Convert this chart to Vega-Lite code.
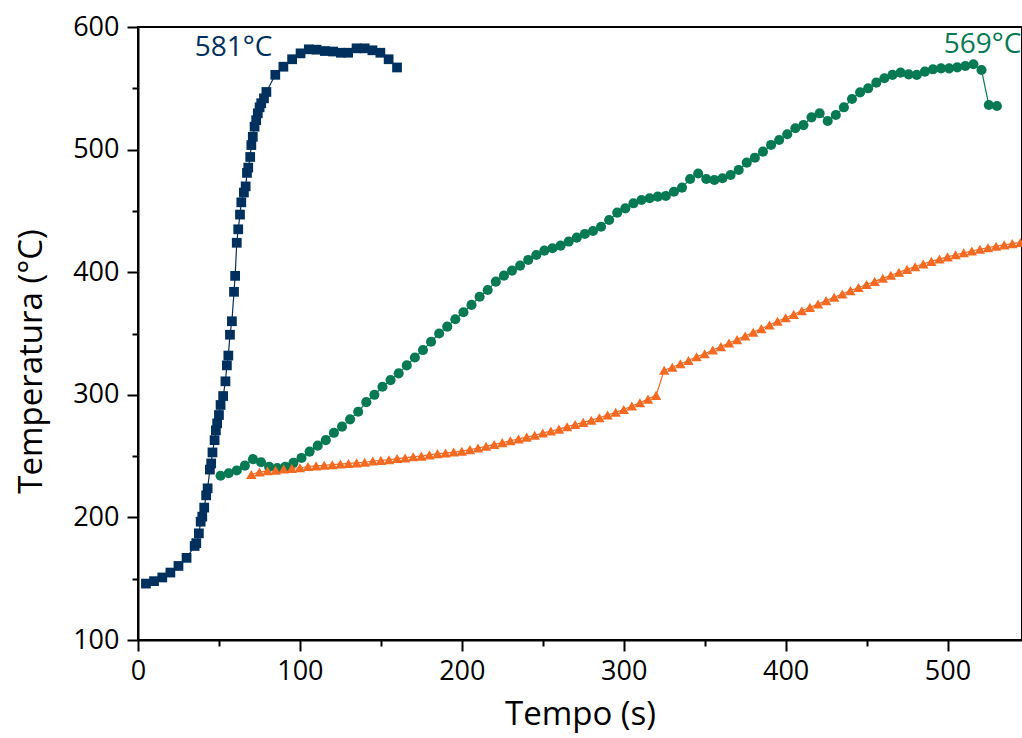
{
  "$schema": "https://vega.github.io/schema/vega-lite/v6.json",
  "autosize": "none",
  "width": 884,
  "height": 613,
  "padding": {"left": 138, "top": 27, "right": 0, "bottom": 98},
  "background": "white",
  "config": {
    "view": {"stroke": "black", "strokeWidth": 2},
    "font": "Open Sans",
    "axis": {
      "labelFont": "Open Sans",
      "titleFont": "Open Sans",
      "labelFontSize": 27,
      "titleFontSize": 33,
      "titleFontWeight": "normal",
      "labelColor": "black",
      "titleColor": "black",
      "domainColor": "black",
      "domainWidth": 2,
      "tickColor": "black",
      "tickWidth": 2,
      "grid": false
    }
  },
  "datasets": {
    "pts": [
      {"s": "A", "t": 4.9, "T": 146},
      {"s": "A", "t": 9.9, "T": 148},
      {"s": "A", "t": 15, "T": 151},
      {"s": "A", "t": 20, "T": 155},
      {"s": "A", "t": 25, "T": 160.4},
      {"s": "A", "t": 30, "T": 167},
      {"s": "A", "t": 35, "T": 176.7},
      {"s": "A", "t": 36, "T": 179},
      {"s": "A", "t": 37.6, "T": 187},
      {"s": "A", "t": 38.7, "T": 196.5},
      {"s": "A", "t": 39.7, "T": 200.6},
      {"s": "A", "t": 40.9, "T": 208},
      {"s": "A", "t": 42.1, "T": 218},
      {"s": "A", "t": 43, "T": 223.7},
      {"s": "A", "t": 44.4, "T": 239},
      {"s": "A", "t": 45.2, "T": 244},
      {"s": "A", "t": 46, "T": 253},
      {"s": "A", "t": 47.3, "T": 263},
      {"s": "A", "t": 48.1, "T": 271},
      {"s": "A", "t": 48.9, "T": 276.7},
      {"s": "A", "t": 50, "T": 283.5},
      {"s": "A", "t": 51, "T": 291.7},
      {"s": "A", "t": 52.6, "T": 299},
      {"s": "A", "t": 54, "T": 311},
      {"s": "A", "t": 54.9, "T": 324},
      {"s": "A", "t": 55.8, "T": 332},
      {"s": "A", "t": 56.8, "T": 349},
      {"s": "A", "t": 58, "T": 360},
      {"s": "A", "t": 59.3, "T": 384},
      {"s": "A", "t": 60, "T": 397},
      {"s": "A", "t": 61, "T": 424},
      {"s": "A", "t": 61.9, "T": 435},
      {"s": "A", "t": 63, "T": 447},
      {"s": "A", "t": 63.8, "T": 457},
      {"s": "A", "t": 65.4, "T": 465},
      {"s": "A", "t": 66.5, "T": 470},
      {"s": "A", "t": 67.3, "T": 481},
      {"s": "A", "t": 68.1, "T": 485.3},
      {"s": "A", "t": 69.3, "T": 494},
      {"s": "A", "t": 70, "T": 503.7},
      {"s": "A", "t": 70.9, "T": 510.4},
      {"s": "A", "t": 72, "T": 518.7},
      {"s": "A", "t": 73, "T": 524},
      {"s": "A", "t": 74, "T": 529.6},
      {"s": "A", "t": 75.1, "T": 534.5},
      {"s": "A", "t": 76.1, "T": 537.8},
      {"s": "A", "t": 77.8, "T": 541.8},
      {"s": "A", "t": 79.3, "T": 547},
      {"s": "A", "t": 84.8, "T": 561},
      {"s": "A", "t": 89.8, "T": 567.6},
      {"s": "A", "t": 95.2, "T": 573.7},
      {"s": "A", "t": 100.4, "T": 578.5},
      {"s": "A", "t": 105.5, "T": 581.8},
      {"s": "A", "t": 110.3, "T": 581.5},
      {"s": "A", "t": 115.4, "T": 580.4},
      {"s": "A", "t": 120.5, "T": 580},
      {"s": "A", "t": 125.3, "T": 579},
      {"s": "A", "t": 129.8, "T": 579},
      {"s": "A", "t": 135, "T": 582.6},
      {"s": "A", "t": 140, "T": 582.6},
      {"s": "A", "t": 144.8, "T": 581},
      {"s": "A", "t": 149.7, "T": 579},
      {"s": "A", "t": 154.8, "T": 573.7},
      {"s": "A", "t": 160, "T": 567},

      {"s": "B", "t": 51, "T": 234},
      {"s": "B", "t": 56, "T": 236},
      {"s": "B", "t": 61, "T": 238.3},
      {"s": "B", "t": 66, "T": 242.2},
      {"s": "B", "t": 71, "T": 247.5},
      {"s": "B", "t": 76, "T": 245},
      {"s": "B", "t": 81, "T": 241.2},
      {"s": "B", "t": 86, "T": 240.2},
      {"s": "B", "t": 91, "T": 241.2},
      {"s": "B", "t": 96, "T": 244.5},
      {"s": "B", "t": 101, "T": 248.5},
      {"s": "B", "t": 106, "T": 253.7},
      {"s": "B", "t": 111, "T": 258.5},
      {"s": "B", "t": 116, "T": 263},
      {"s": "B", "t": 121, "T": 269},
      {"s": "B", "t": 126, "T": 274},
      {"s": "B", "t": 131, "T": 280},
      {"s": "B", "t": 136, "T": 286.2},
      {"s": "B", "t": 141, "T": 294},
      {"s": "B", "t": 146, "T": 300},
      {"s": "B", "t": 151, "T": 306.6},
      {"s": "B", "t": 156, "T": 312},
      {"s": "B", "t": 161, "T": 317.5},
      {"s": "B", "t": 166, "T": 324},
      {"s": "B", "t": 171, "T": 330.4},
      {"s": "B", "t": 176, "T": 336.5},
      {"s": "B", "t": 181, "T": 343.3},
      {"s": "B", "t": 186, "T": 350},
      {"s": "B", "t": 191, "T": 355.6},
      {"s": "B", "t": 196, "T": 361.6},
      {"s": "B", "t": 201, "T": 367.3},
      {"s": "B", "t": 206, "T": 373.3},
      {"s": "B", "t": 211, "T": 380},
      {"s": "B", "t": 216, "T": 385.5},
      {"s": "B", "t": 221, "T": 392.3},
      {"s": "B", "t": 226, "T": 397.2},
      {"s": "B", "t": 231, "T": 401.3},
      {"s": "B", "t": 236, "T": 405.4},
      {"s": "B", "t": 241, "T": 410},
      {"s": "B", "t": 246, "T": 414},
      {"s": "B", "t": 251, "T": 417.6},
      {"s": "B", "t": 256, "T": 419.5},
      {"s": "B", "t": 261, "T": 421.7},
      {"s": "B", "t": 266, "T": 425},
      {"s": "B", "t": 271, "T": 428.2},
      {"s": "B", "t": 276, "T": 431.2},
      {"s": "B", "t": 281, "T": 433.6},
      {"s": "B", "t": 286, "T": 437.1},
      {"s": "B", "t": 291, "T": 442.6},
      {"s": "B", "t": 296, "T": 448.6},
      {"s": "B", "t": 301, "T": 452.1},
      {"s": "B", "t": 306, "T": 456.2},
      {"s": "B", "t": 311, "T": 458.9},
      {"s": "B", "t": 316, "T": 460.3},
      {"s": "B", "t": 321, "T": 461.6},
      {"s": "B", "t": 326, "T": 462.2},
      {"s": "B", "t": 331, "T": 465.6},
      {"s": "B", "t": 336, "T": 469},
      {"s": "B", "t": 341, "T": 476},
      {"s": "B", "t": 346, "T": 480.5},
      {"s": "B", "t": 351, "T": 476},
      {"s": "B", "t": 356, "T": 475.2},
      {"s": "B", "t": 361, "T": 476.6},
      {"s": "B", "t": 366, "T": 479.3},
      {"s": "B", "t": 371, "T": 483.4},
      {"s": "B", "t": 376, "T": 489.4},
      {"s": "B", "t": 381, "T": 493.4},
      {"s": "B", "t": 386, "T": 498.3},
      {"s": "B", "t": 391, "T": 503.8},
      {"s": "B", "t": 396, "T": 507.8},
      {"s": "B", "t": 401, "T": 512.5},
      {"s": "B", "t": 406, "T": 517.4},
      {"s": "B", "t": 411, "T": 520},
      {"s": "B", "t": 416, "T": 526.3},
      {"s": "B", "t": 421, "T": 529.6},
      {"s": "B", "t": 426, "T": 523.3},
      {"s": "B", "t": 431, "T": 528.2},
      {"s": "B", "t": 436, "T": 534.5},
      {"s": "B", "t": 441, "T": 541.3},
      {"s": "B", "t": 446, "T": 546.7},
      {"s": "B", "t": 451, "T": 550},
      {"s": "B", "t": 456, "T": 554.6},
      {"s": "B", "t": 461, "T": 558.2},
      {"s": "B", "t": 466, "T": 560.9},
      {"s": "B", "t": 471, "T": 562.8},
      {"s": "B", "t": 476, "T": 561.4},
      {"s": "B", "t": 481, "T": 560.9},
      {"s": "B", "t": 486, "T": 563.6},
      {"s": "B", "t": 491, "T": 565.5},
      {"s": "B", "t": 496, "T": 566.3},
      {"s": "B", "t": 501, "T": 566.3},
      {"s": "B", "t": 506, "T": 567.1},
      {"s": "B", "t": 511, "T": 568.2},
      {"s": "B", "t": 516, "T": 569.6},
      {"s": "B", "t": 521, "T": 564.9},
      {"s": "B", "t": 525.5, "T": 536.4},
      {"s": "B", "t": 530.5, "T": 535.6},

      {"s": "C", "t": 70, "T": 235},
      {"s": "C", "t": 75, "T": 237},
      {"s": "C", "t": 80, "T": 238},
      {"s": "C", "t": 85, "T": 238.5},
      {"s": "C", "t": 90, "T": 239.5},
      {"s": "C", "t": 95, "T": 240},
      {"s": "C", "t": 100, "T": 240.5},
      {"s": "C", "t": 105, "T": 241.5},
      {"s": "C", "t": 110, "T": 242},
      {"s": "C", "t": 115, "T": 242.5},
      {"s": "C", "t": 120, "T": 243},
      {"s": "C", "t": 125, "T": 243.5},
      {"s": "C", "t": 130, "T": 244},
      {"s": "C", "t": 135, "T": 244.5},
      {"s": "C", "t": 140, "T": 245},
      {"s": "C", "t": 145, "T": 246},
      {"s": "C", "t": 150, "T": 246.5},
      {"s": "C", "t": 155, "T": 247},
      {"s": "C", "t": 160, "T": 248},
      {"s": "C", "t": 165, "T": 248.5},
      {"s": "C", "t": 170, "T": 249.5},
      {"s": "C", "t": 175, "T": 250},
      {"s": "C", "t": 180, "T": 251},
      {"s": "C", "t": 185, "T": 252},
      {"s": "C", "t": 190, "T": 252.5},
      {"s": "C", "t": 195, "T": 253.3},
      {"s": "C", "t": 200, "T": 254},
      {"s": "C", "t": 205, "T": 255.3},
      {"s": "C", "t": 210, "T": 256.6},
      {"s": "C", "t": 215, "T": 258},
      {"s": "C", "t": 220, "T": 259.5},
      {"s": "C", "t": 225, "T": 261},
      {"s": "C", "t": 230, "T": 262.5},
      {"s": "C", "t": 235, "T": 264},
      {"s": "C", "t": 240, "T": 265.5},
      {"s": "C", "t": 245, "T": 267},
      {"s": "C", "t": 250, "T": 268.8},
      {"s": "C", "t": 255, "T": 270.5},
      {"s": "C", "t": 260, "T": 272},
      {"s": "C", "t": 265, "T": 274},
      {"s": "C", "t": 270, "T": 275.8},
      {"s": "C", "t": 275, "T": 277.5},
      {"s": "C", "t": 280, "T": 279.3},
      {"s": "C", "t": 285, "T": 281.3},
      {"s": "C", "t": 290, "T": 283.5},
      {"s": "C", "t": 295, "T": 285.7},
      {"s": "C", "t": 300, "T": 288},
      {"s": "C", "t": 305, "T": 290.8},
      {"s": "C", "t": 310, "T": 293.5},
      {"s": "C", "t": 315, "T": 296.5},
      {"s": "C", "t": 320, "T": 299.5},
      {"s": "C", "t": 325, "T": 320},
      {"s": "C", "t": 330, "T": 322.5},
      {"s": "C", "t": 335, "T": 325.3},
      {"s": "C", "t": 340, "T": 328},
      {"s": "C", "t": 345, "T": 331},
      {"s": "C", "t": 350, "T": 333.5},
      {"s": "C", "t": 355, "T": 336.5},
      {"s": "C", "t": 360, "T": 339.3},
      {"s": "C", "t": 365, "T": 342.2},
      {"s": "C", "t": 370, "T": 345},
      {"s": "C", "t": 375, "T": 348},
      {"s": "C", "t": 380, "T": 351},
      {"s": "C", "t": 385, "T": 354},
      {"s": "C", "t": 390, "T": 357},
      {"s": "C", "t": 395, "T": 360},
      {"s": "C", "t": 400, "T": 362.8},
      {"s": "C", "t": 405, "T": 365.6},
      {"s": "C", "t": 410, "T": 368.5},
      {"s": "C", "t": 415, "T": 371.3},
      {"s": "C", "t": 420, "T": 374},
      {"s": "C", "t": 425, "T": 376.8},
      {"s": "C", "t": 430, "T": 379.5},
      {"s": "C", "t": 435, "T": 382.2},
      {"s": "C", "t": 440, "T": 385},
      {"s": "C", "t": 445, "T": 387.5},
      {"s": "C", "t": 450, "T": 390},
      {"s": "C", "t": 455, "T": 392.5},
      {"s": "C", "t": 460, "T": 395},
      {"s": "C", "t": 465, "T": 397.5},
      {"s": "C", "t": 470, "T": 400},
      {"s": "C", "t": 475, "T": 402.3},
      {"s": "C", "t": 480, "T": 404.5},
      {"s": "C", "t": 485, "T": 406.7},
      {"s": "C", "t": 490, "T": 408.8},
      {"s": "C", "t": 495, "T": 410.7},
      {"s": "C", "t": 500, "T": 412.5},
      {"s": "C", "t": 505, "T": 414.2},
      {"s": "C", "t": 510, "T": 415.8},
      {"s": "C", "t": 515, "T": 417.3},
      {"s": "C", "t": 520, "T": 418.7},
      {"s": "C", "t": 525, "T": 420},
      {"s": "C", "t": 530, "T": 421.2},
      {"s": "C", "t": 535, "T": 422.3},
      {"s": "C", "t": 540, "T": 423.3},
      {"s": "C", "t": 545, "T": 424.2}
    ],
    "notes": [
      {"s": "A", "t": 59, "T": 583, "label": "581°C"},
      {"s": "B", "t": 521.7, "T": 585, "label": "569°C"}
    ]
  },
  "encoding": {
    "x": {
      "field": "t",
      "type": "quantitative",
      "scale": {"domain": [0, 546], "nice": false, "zero": false},
      "axis": {
        "title": "Tempo (s)",
        "values": [0, 50, 100, 150, 200, 250, 300, 350, 400, 450, 500],
        "labelExpr": "datum.value % 100 === 0 ? datum.label : ''",
        "tickSize": {"condition": {"test": "datum.value % 100 !== 0", "value": 6}, "value": 11},
        "labelPadding": 7,
        "titlePadding": 14,
        "labelFlush": false
      }
    },
    "y": {
      "field": "T",
      "type": "quantitative",
      "scale": {"domain": [100, 600], "nice": false, "zero": false},
      "axis": {
        "title": "Temperatura (°C)",
        "values": [100, 150, 200, 250, 300, 350, 400, 450, 500, 550, 600],
        "labelExpr": "datum.value % 100 === 0 ? datum.label : ''",
        "tickSize": {"condition": {"test": "datum.value % 100 !== 0", "value": 6}, "value": 11},
        "labelPadding": 8,
        "titlePadding": 24,
        "titleY": 334,
        "labelFlush": false
      }
    },
    "color": {
      "field": "s",
      "type": "nominal",
      "scale": {"domain": ["A", "B", "C"], "range": ["#00305e", "#087a53", "#f46a22"]},
      "legend": null
    }
  },
  "layer": [
    {
      "data": {"name": "pts"},
      "mark": {"type": "line", "strokeWidth": 1.2},
      "encoding": {"detail": {"field": "s"}}
    },
    {
      "data": {"name": "pts"},
      "mark": {"type": "point", "filled": true, "opacity": 1},
      "encoding": {
        "shape": {
          "field": "s",
          "type": "nominal",
          "scale": {"domain": ["A", "B", "C"], "range": ["square", "circle", "triangle-up"]},
          "legend": null
        },
        "size": {
          "field": "s",
          "type": "nominal",
          "scale": {"domain": ["A", "B", "C"], "range": [95, 110, 200]},
          "legend": null
        }
      }
    },
    {
      "data": {"name": "notes"},
      "mark": {"type": "text", "fontSize": 28, "font": "Open Sans", "align": "center", "baseline": "middle"},
      "encoding": {"text": {"field": "label"}}
    }
  ]
}
